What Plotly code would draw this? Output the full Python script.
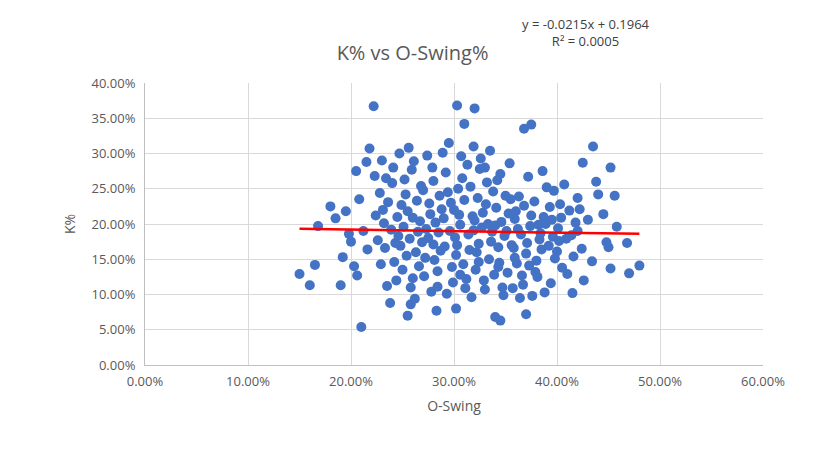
import plotly.graph_objects as go

# O-Swing% vs K% (values in %)
pts = [
    (15.0, 12.9), (16.0, 11.3), (16.5, 14.2), (16.8, 19.7), (18.0, 22.5), (18.5, 20.8),
    (19.0, 11.3), (19.2, 15.3), (19.5, 21.8), (20.0, 17.5), (20.3, 14.0), (20.5, 27.5),
    (21.0, 5.4), (21.5, 28.8), (21.8, 30.7), (22.2, 36.7), (30.3, 36.8), (32.0, 36.4),
    (31.0, 34.2), (37.5, 34.1), (36.8, 33.5), (43.5, 31.0), (47.0, 13.0), (48.0, 14.1),
    (46.8, 17.3), (45.8, 19.6), (45.2, 28.0), (44.0, 24.2), (42.5, 28.7), (41.5, 10.2),
    (34.5, 6.3), (34.0, 6.8), (37.0, 7.2), (25.5, 7.0), (25.8, 8.6), (28.3, 7.7),
    (30.2, 8.0), (40.3, 22.8), (42.6, 12.0), (45.0, 16.7), (45.6, 24.0), (44.5, 21.4),
    (43.8, 26.0), (42.0, 23.7), (45.2, 13.7), (44.8, 17.4), (20.8, 23.5), (21.2, 19.0),
    (19.8, 18.6), (20.6, 12.7), (21.6, 16.4), (22.4, 21.2), (22.8, 24.4), (23.0, 29.0),
    (23.5, 11.2), (23.8, 8.8), (24.2, 14.6), (24.6, 18.3), (24.9, 22.7), (25.2, 26.3),
    (25.6, 30.8), (26.0, 12.3), (26.3, 16.0), (26.7, 20.4), (27.0, 24.8), (27.4, 29.7),
    (27.8, 10.4), (28.1, 14.9), (28.5, 18.8), (28.8, 22.1), (29.2, 27.3), (29.5, 31.5),
    (29.9, 11.7), (30.2, 15.6), (30.6, 19.9), (31.0, 23.4), (31.3, 28.4), (31.7, 9.6),
    (32.1, 13.5), (32.4, 17.2), (32.8, 21.6), (33.2, 25.9), (33.5, 30.4), (33.9, 12.8),
    (34.3, 16.7), (34.6, 20.3), (35.0, 24.0), (35.4, 28.6), (35.7, 10.9), (36.1, 14.4),
    (36.5, 18.5), (36.8, 22.6), (37.2, 26.7), (37.6, 9.8), (37.9, 13.2), (38.3, 17.8),
    (38.7, 21.0), (39.0, 25.2), (39.4, 11.6), (39.8, 15.1), (40.1, 19.4), (40.5, 13.8),
    (40.9, 17.9), (41.2, 21.9), (41.6, 15.4), (42.0, 19.0), (42.4, 16.5), (43.0, 20.6),
    (43.4, 14.7), (22.6, 17.7), (23.2, 20.1), (23.6, 23.1), (24.0, 25.8), (24.4, 12.0),
    (24.8, 16.9), (25.1, 19.6), (25.5, 21.8), (25.9, 27.7), (26.2, 9.4), (26.6, 14.0),
    (26.9, 17.4), (27.3, 19.3), (27.6, 22.9), (28.0, 26.1), (28.4, 11.1), (28.7, 16.2),
    (29.0, 20.8), (29.4, 24.5), (29.8, 13.9), (30.1, 18.1), (30.5, 21.3), (30.8, 26.5),
    (31.2, 12.2), (31.5, 16.3), (31.9, 19.1), (32.3, 23.7), (32.6, 29.3), (33.0, 10.7),
    (33.4, 15.0), (33.7, 18.9), (34.1, 22.3), (34.5, 27.1), (34.8, 9.9), (35.2, 13.1),
    (35.6, 17.0), (35.9, 20.7), (36.3, 23.9), (36.7, 11.4), (37.0, 15.8), (37.4, 19.7),
    (37.8, 23.2), (38.1, 12.5), (38.5, 16.4), (38.9, 20.0), (39.3, 22.4), (39.6, 18.2),
    (40.0, 16.1), (40.4, 20.9), (41.0, 12.9), (41.4, 18.4), (41.8, 20.2), (22.9, 14.3),
    (23.3, 16.6), (23.9, 19.2), (24.5, 21.0), (25.0, 13.5), (25.4, 15.5), (25.7, 17.9),
    (26.4, 23.3), (26.8, 25.4), (27.2, 15.2), (27.5, 18.0), (28.2, 20.2), (28.6, 24.0),
    (29.1, 16.8), (29.6, 19.0), (30.0, 22.0), (30.4, 25.0), (30.9, 14.3), (31.4, 18.5),
    (31.8, 21.1), (32.2, 16.0), (32.7, 19.5), (33.1, 22.8), (33.6, 17.5), (34.0, 19.8),
    (34.4, 14.5), (34.9, 18.3), (35.3, 21.5), (35.8, 16.6), (36.2, 19.3), (36.6, 12.7),
    (37.1, 17.3), (37.5, 21.2), (38.0, 14.8), (38.4, 18.7), (38.8, 10.3), (39.2, 16.9),
    (27.1, 12.6), (29.3, 10.1), (31.1, 10.9), (32.9, 12.0), (34.7, 11.0), (36.4, 9.5),
    (26.1, 28.9), (28.9, 30.1), (30.7, 29.6), (32.5, 27.8), (34.2, 26.2), (35.5, 23.5),
    (24.1, 28.0), (22.3, 26.8), (38.6, 27.5), (39.7, 24.7), (40.7, 25.6), (42.2, 22.1),
    (23.1, 22.0), (24.3, 17.3), (25.3, 24.2), (26.5, 18.9), (27.7, 21.4), (28.0, 17.1),
    (29.7, 23.0), (30.3, 17.0), (31.6, 25.3), (32.0, 20.5), (33.3, 20.0), (33.8, 24.6),
    (35.1, 19.0), (36.0, 21.8), (37.3, 14.1), (38.2, 19.9), (39.5, 20.6), (40.2, 17.6),
    (28.4, 13.3), (30.6, 12.8), (32.4, 14.6), (34.3, 13.9), (35.9, 15.2), (26.0, 20.9),
    (27.9, 28.0), (31.9, 31.0), (33.0, 28.0), (24.7, 30.0), (23.4, 26.5), (25.8, 11.0),
]
xs = [p[0] / 100 for p in pts]
ys = [p[1] / 100 for p in pts]

slope, intercept = -0.0215, 0.1964
tx = [0.15, 0.48]
ty = [slope * v + intercept for v in tx]

fig = go.Figure()
fig.add_trace(go.Scatter(
    x=xs, y=ys, mode="markers",
    marker=dict(size=10, color="#4472C4"),
    showlegend=False,
))
fig.add_trace(go.Scatter(
    x=tx, y=ty, mode="lines",
    line=dict(color="#FF0000", width=2.5),
    showlegend=False,
))

axis_common = dict(
    tickformat=".2%", showgrid=True, gridcolor="#D9D9D9", zeroline=False,
    showline=True, linecolor="#BFBFBF", ticks="", automargin=False,
    tickfont=dict(size=13, color="#595959"),
)
fig.update_layout(
    width=814, height=449,
    paper_bgcolor="white", plot_bgcolor="white",
    font=dict(family="Open Sans, sans-serif", color="#595959"),
    margin=dict(l=137, r=59, t=75, b=92),
    title=dict(text="K% vs O-Swing%", x=0.497, y=0.915, xanchor="center",
               font=dict(size=20, color="#595959")),
    xaxis=dict(range=[0, 0.6], dtick=0.1, ticklabelstandoff=4,
               title=dict(text="O-Swing", font=dict(size=14), standoff=12),
               **axis_common),
    yaxis=dict(range=[0, 0.4], dtick=0.05, ticklabelstandoff=6,
               title=dict(text="K%", font=dict(size=14), standoff=12),
               **axis_common),
    annotations=[dict(
        text="y = -0.0215x + 0.1964<br>R² = 0.0005", xref="paper", yref="paper",
        x=0.82, y=1.25, showarrow=False, align="center",
        font=dict(size=13, color="#404040"),
    )],
)
fig.write_html("out.html")
